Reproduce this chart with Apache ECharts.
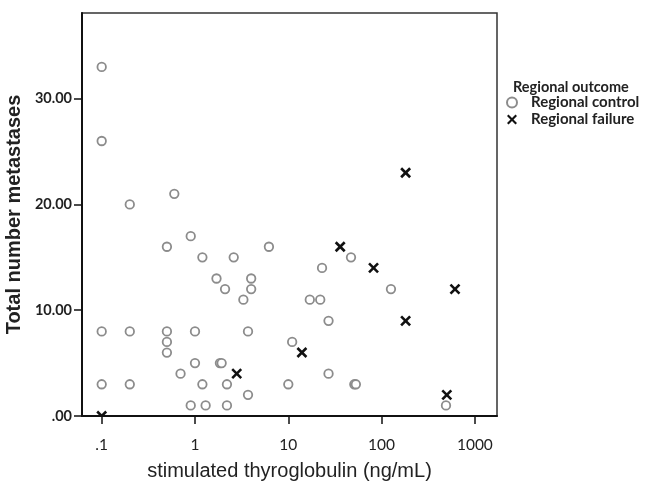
<!DOCTYPE html>
<html>
<head>
<meta charset="utf-8">
<script src="https://cdn.jsdelivr.net/npm/echarts@6/dist/echarts.min.js"></script>
<style>
html,body{margin:0;padding:0;background:#fff;}
#chart{width:647px;height:488px;}
</style>
</head>
<body>
<div id="chart"></div>
<script>
// Regional control: [stimulated thyroglobulin (ng/mL), total number metastases]
const controlX = [0.1, 0.1, 0.2, 0.6, 0.9, 0.5, 1.2, 2.6, 1.7, 4.0, 2.1, 4.0, 3.3,
  0.1, 0.2, 0.5, 1.0, 3.7, 0.5, 0.5, 1.0, 1.85, 1.93, 0.7, 0.1, 0.2, 1.2, 2.2, 3.7,
  0.9, 1.3, 2.2, 6.2, 47, 23, 126, 17, 22, 27, 11, 27, 10, 51, 53, 490];
const controlY = [33, 26, 20, 21, 17, 16, 15, 15, 13, 13, 12, 12, 11,
  8, 8, 8, 8, 8, 7, 6, 5, 5, 5, 4, 3, 3, 3, 3, 2,
  1, 1, 1, 16, 15, 14, 12, 11, 11, 9, 7, 4, 3, 3, 3, 1];
// Regional failure
const failureX = [0.1, 2.8, 14, 36, 82, 181, 181, 612, 500];
const failureY = [0, 4, 6, 16, 14, 23, 9, 12, 2];

const xTicks = [0.1, 1, 10, 100, 1000];
const xTickLabels = ['.1', '1', '10', '100', '1000'];
const yTicks = [0, 10, 20, 30];
const yTickLabels = ['.00', '10.00', '20.00', '30.00'];

const seriesNames = ['Regional control', 'Regional failure'];
const legendTitle = 'Regional outcome';
const xTitle = 'stimulated thyroglobulin (ng/mL)';
const yTitle = 'Total number metastases';

const crossPath = 'path://M0,1.5L1.5,0L5,3.5L8.5,0L10,1.5L6.5,5L10,8.5L8.5,10L5,6.5L1.5,10L0,8.5L3.5,5Z';

const controlData = controlX.map((x, i) => [x, controlY[i]]);
const failureData = failureX.map((x, i) => [x, failureY[i]]);

const chart = echarts.init(document.getElementById('chart'), null, {renderer: 'canvas'});
chart.setOption({
  animation: false,
  backgroundColor: '#fff',
  title: {
    text: legendTitle,
    left: 513, top: 80,
    padding: 0,
    textStyle: {fontFamily: 'Lato', fontWeight: 'bold', fontSize: 14.5, color: '#222'}
  },
  legend: {
    orient: 'vertical',
    left: 506, top: 95,
    padding: 0,
    itemWidth: 10, itemHeight: 10, itemGap: 2,
    textStyle: {fontFamily: 'Lato', fontWeight: 'bold', fontSize: 15, lineHeight: 14, color: '#222', padding: [0,0,0,9]},
    data: [
      {name: seriesNames[0], icon: 'circle'},
      {name: seriesNames[1], icon: crossPath, itemStyle: {color: '#111'}}
    ]
  },
  grid: {left: 82, right: 150, top: 13, bottom: 72, outerBoundsMode: 'none', containLabel: false, show: true, borderColor: '#333', borderWidth: 1.5, backgroundColor: '#fff'},
  xAxis: {
    type: 'log',
    logBase: 10,
    min: 0.0615,
    max: 1726,
    name: xTitle,
    nameLocation: 'middle',
    nameGap: 45,
    nameTextStyle: {fontFamily: 'Liberation Sans', fontSize: 20, color: '#222'},
    axisLine: {show: true, onZero: false, lineStyle: {color: '#111', width: 2}},
    axisTick: {show: true, length: 8, customValues: xTicks, lineStyle: {color: '#111', width: 1.5}},
    axisLabel: {
      customValues: xTicks,
      margin: 21,
      fontFamily: 'Lato', fontSize: 15.5, color: '#222',
      formatter: v => xTickLabels[xTicks.findIndex(t => Math.abs(t - v) / t < 1e-6)] ?? ''
    },
    splitLine: {show: false},
    minorTick: {show: false}
  },
  yAxis: {
    type: 'value',
    min: 0,
    max: 38.1,
    name: yTitle,
    nameLocation: 'middle',
    nameGap: 54,
    nameRotate: 90,
    nameTextStyle: {fontFamily: 'Liberation Sans', fontWeight: 'bold', fontSize: 20, color: '#222'},
    axisLine: {show: true, onZero: false, lineStyle: {color: '#111', width: 2}},
    axisTick: {show: true, length: 8, customValues: yTicks, lineStyle: {color: '#111', width: 1.5}},
    axisLabel: {
      customValues: yTicks,
      margin: 10,
      fontFamily: 'Lato', fontWeight: 'bold', fontSize: 14.5, color: '#222',
      formatter: v => yTickLabels[yTicks.indexOf(v)] ?? ''
    },
    splitLine: {show: false}
  },
  series: [
    {
      name: seriesNames[0],
      type: 'scatter',
      data: controlData,
      symbol: 'circle',
      symbolSize: 8.5,
      itemStyle: {color: '#fff', borderColor: '#8c8c8c', borderWidth: 1.8, opacity: 1},
      z: 3
    },
    {
      name: seriesNames[1],
      type: 'custom',
      clip: true,
      data: failureData,
      itemStyle: {color: '#111'},
      z: 4,
      renderItem: function (params, api) {
        const p = api.coord([api.value(0), api.value(1)]);
        const h = 4.5;
        return {
          type: 'group',
          children: [
            {type: 'line', shape: {x1: p[0]-h, y1: p[1]-h, x2: p[0]+h, y2: p[1]+h}, style: {stroke: '#111', lineWidth: 2.6}},
            {type: 'line', shape: {x1: p[0]-h, y1: p[1]+h, x2: p[0]+h, y2: p[1]-h}, style: {stroke: '#111', lineWidth: 2.6}}
          ]
        };
      },
      encode: {x: 0, y: 1}
    }
  ]
});
</script>
</body>
</html>
